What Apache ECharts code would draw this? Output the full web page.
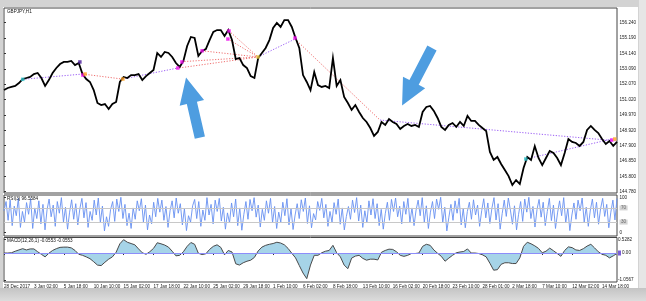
<!DOCTYPE html>
<html>
<head>
<meta charset="utf-8">
<script src="https://cdn.jsdelivr.net/npm/echarts@6/dist/echarts.min.js"></script>
<style>
html,body{margin:0;padding:0;width:646px;height:301px;overflow:hidden;background:#d3d3d3;}
#win{position:absolute;left:3px;top:7px;width:635px;height:281px;background:#fff;}
#rstrip{position:absolute;left:639px;top:0;width:7px;height:301px;background:#e6e6e6;}
#bot{position:absolute;left:0;top:288px;width:646px;height:13px;background:linear-gradient(#c4c4c4,#dcdcdc);}
#c{position:absolute;left:0;top:0;width:646px;height:301px;}
</style>
</head>
<body>
<div id="rstrip"></div>
<div id="bot"></div>
<div id="win"></div>
<div id="c"></div>
<script>
// ---------- DATA ----------
const tickLabels = ['28 Dec 2017','3 Jan 02:00','5 Jan 18:00','10 Jan 10:00','15 Jan 02:00','17 Jan 18:00','22 Jan 10:00','25 Jan 02:00','29 Jan 18:00','1 Feb 10:00','6 Feb 02:00','8 Feb 18:00','13 Feb 10:00','16 Feb 02:00','20 Feb 18:00','23 Feb 10:00','28 Feb 01:00','2 Mar 18:00','7 Mar 10:00','12 Mar 02:00','14 Mar 18:00'];
const priceTicks = [156.240,155.190,154.140,153.090,152.070,151.020,149.970,148.920,147.900,146.850,145.800,144.780];
const rsiTicks = [100,70,30,0];
const macdTicks = [0.5282,0,-1.0567];

const price = [
151.66,151.80,151.87,151.94,152.14,152.41,152.48,152.55,152.75,152.82,
152.48,151.94,152.34,152.82,153.16,153.43,153.57,153.57,153.64,153.36,
153.50,152.75,152.41,152.21,151.66,150.78,150.64,150.71,150.37,150.71,
150.85,152.21,152.55,152.48,152.68,152.68,152.75,152.34,152.61,152.82,
153.02,154.18,153.91,154.25,154.18,153.91,153.50,153.23,153.64,154.66,
155.27,155.20,153.98,154.32,154.45,155.06,155.61,155.74,155.74,155.33,
155.74,155.06,153.77,153.84,153.36,153.16,152.61,152.48,153.84,154.18,
154.52,155.06,155.88,156.22,155.95,156.42,156.42,155.95,155.20,154.52,
152.68,152.21,151.66,152.89,152.00,151.87,151.94,151.80,153.84,151.94,
152.34,151.19,150.78,150.31,150.64,150.17,149.76,149.49,149.08,148.54,
148.81,149.49,149.29,149.69,149.49,149.35,149.01,149.22,149.35,149.22,
149.29,149.15,150.17,150.51,150.58,150.24,149.76,149.15,148.95,149.29,
149.42,149.15,149.49,149.22,149.90,149.56,149.56,149.29,149.08,148.88,
147.45,146.91,147.11,146.63,146.22,145.81,145.20,145.54,145.27,146.36,
147.11,146.91,147.85,147.04,146.56,147.04,147.52,147.38,147.04,146.56,
147.38,148.33,148.13,148.06,147.86,148.13,148.95,149.22,148.95,148.74,
148.33,147.99,148.20,147.86,148.13];

const macd = [
0,0,0.01,0.07,0.12,0.17,0.12,0.16,0.16,0.05,
-0.05,-0.15,-0.01,0.10,0.17,0.22,0.23,0.23,0.20,0.10,
-0.05,-0.09,-0.15,-0.22,-0.34,-0.47,-0.49,-0.36,-0.24,-0.15,
0.03,0.36,0.52,0.42,0.37,0.32,0.16,0.01,-0.05,0.05,
0.18,0.40,0.36,0.31,0.23,0.07,-0.11,-0.09,0.05,0.26,
0.41,0.34,-0.01,-0.06,-0.03,0.14,0.26,0.32,0.22,-0.07,
0.10,0.04,-0.42,-0.47,-0.38,-0.32,-0.28,-0.17,0.08,0.23,
0.30,0.34,0.37,0.42,0.39,0.32,0.18,-0.01,-0.19,-0.49,
-0.78,-1.00,-0.47,-0.09,-0.09,0.01,0.07,0.10,0.30,0.01,
-0.15,-0.47,-0.61,-0.20,-0.12,-0.09,-0.21,-0.28,-0.24,-0.24,
-0.27,0.03,0.10,0.15,0.14,0.05,-0.09,-0.13,-0.09,-0.02,
-0.02,0.00,0.26,0.34,0.30,0.12,-0.01,-0.13,-0.32,-0.20,
-0.09,0.01,0.04,0.06,0.16,0.00,0.00,-0.02,-0.07,-0.15,
-0.40,-0.67,-0.65,-0.44,-0.38,-0.38,-0.41,-0.41,-0.19,0.26,
0.42,0.36,0.28,0.18,0.01,0.07,0.19,0.09,-0.02,-0.13,
0.10,0.24,0.21,0.12,0.10,0.17,0.27,0.34,0.20,0.05,
-0.05,-0.09,-0.19,-0.11,-0.02];

const rsi = [
62,88,35,92,20,75,48,97,15,60,30,85,52,96,12,70,40,90,25,80,
8,65,95,45,78,18,88,55,99,30,72,10,58,93,38,82,22,68,97,42,
85,15,60,35,92,50,98,28,75,5,45,18,66,88,32,95,60,100,40,80,
20,55,12,70,38,90,62,96,30,78,8,50,25,86,45,97,58,92,35,74,
15,62,90,42,98,55,82,22,68,6,48,30,76,94,40,88,18,64,35,99,
50,80,25,92,60,97,33,72,10,56,28,84,45,95,20,70,7,52,88,38,
94,62,99,44,78,16,66,35,90,55,97,28,74,12,58,30,86,48,96,22,
68,9,50,82,40,93,60,98,26,76,14,54,36,88,63,97,42,80,18,60,
30,85,52,95,24,70,8,46,74,38,92,57,99,33,78,15,62,28,90,50,
96,40,82,20,66,10,55,86,35,94,60,98,45,75,25,88,52,97,30,70,
20,64,92,48,99,30,76,12,58,88,40,95,66,100,28,72,5,44,80,35,
90,55,97,22,68,14,60,86,38,93,50,78,18,62,96,42,84,26,70,99,
36,82,10,54,92,46,98,64,24,76,8,52,88,32,95,58,100,40,74,16,
66,94,44,86,20,60,97,34,78,12,56,90,48,99,28,70,6,50,84,38,
92,62,98,30,72,18,64,95,42,86,24,68,97,46,80,14,58,92,36,96.56];

// trend segments [index0, price0, index1, price1]
const purpleLines = [
[5.0,152.39,21.1,152.75],
[31.8,152.41,46.5,153.16],
[67.95,153.91,77.85,155.13],
[100.6,149.62,164,148.20],
[139.6,146.97,162.6,148.33]];
const redLines = [
[21.1,152.75,31.6,152.41],
[46.2,153.14,67.95,153.91],
[47.5,153.59,67.95,153.91],
[53.0,154.33,67.95,153.91],
[60.2,155.68,67.95,153.91],
[59.9,155.13,67.95,153.91],
[77.85,155.13,100.6,149.62]];

const markMagenta = [[21.1,152.68],[46.5,153.16],[47.6,153.57],[53.0,154.33],[60.2,155.68],[59.9,155.13],[77.85,155.20],[162.6,148.26]];
const markOrange = [[21.7,152.75],[31.8,152.41],[163.4,148.33]];
const markCyan = [[5.0,152.39],[139.6,146.97]];
const markYellow = [[67.95,153.91]];
const markPurple = [[20.3,153.57]];

// arrows [tailIndex, tailPrice, tipIndex, tipPrice]
const arrows = [[52.4,148.43,48.7,152.51],[114.5,154.52,106.5,150.61]];

// ---------- CHART ----------
const FONT = 'Liberation Sans';
const FS = 4.6;
const chart = echarts.init(document.getElementById('c'), null, {renderer:'canvas'});

function segs(arr){ return arr.map(s => ({coords:[[s[0],s[1]],[s[2],s[3]]]})); }
function marker(data,color){
  return {type:'scatter', xAxisIndex:0, yAxisIndex:0, symbol:'rect', symbolSize:3.5,
    itemStyle:{color:color}, data:data, z:6, silent:true};
}

const option = {
  animation:false,
  backgroundColor:'transparent',
  title:[
    {text:'GBPJPY,H1', left:7, top:9.5, padding:0, textStyle:{fontSize:FS, fontFamily:FONT, fontWeight:'normal', color:'#111'}},
    {text:'RSI(3) 96.5584', left:7, top:196, padding:0, textStyle:{fontSize:FS, fontFamily:FONT, fontWeight:'normal', color:'#111'}},
    {text:'MACD(12,26,1) -0.0553 -0.0553', left:7, top:238.5, padding:0, textStyle:{fontSize:FS, fontFamily:FONT, fontWeight:'normal', color:'#111'}}
  ],
  grid:[
    {left:4, right:29, top:8, height:185, show:true, borderColor:'#444', borderWidth:1, backgroundColor:'#fff'},
    {left:4, right:29, top:195, height:41, show:true, borderColor:'#444', borderWidth:1, backgroundColor:'#fff'},
    {left:4, right:29, top:237.5, height:44.5, show:true, borderColor:'#444', borderWidth:1, backgroundColor:'#fff'}
  ],
  xAxis:[
    {gridIndex:0, type:'value', min:0, max:price.length-1, show:false},
    {gridIndex:1, type:'value', min:0, max:rsi.length-1, show:false},
    {gridIndex:2, type:'value', min:0, max:macd.length-1, interval:8,
     axisLine:{show:false}, splitLine:{show:false},
     axisTick:{show:true, length:2, lineStyle:{color:'#333'}},
     axisLabel:{fontSize:FS, fontFamily:FONT, color:'#222', align:'left', margin:2.5, showMaxLabel:false,
       formatter:v => { const k = Math.round(v/8); return (Math.abs(v-k*8)<1e-6 && tickLabels[k]) ? tickLabels[k] : ''; }}}
  ],
  yAxis:[
    {gridIndex:0, type:'value', position:'right', min:144.66, max:157.24, scale:true,
     axisLine:{show:false}, splitLine:{show:false},
     axisTick:{show:true, length:2, customValues:priceTicks, lineStyle:{color:'#333'}},
     axisLabel:{customValues:priceTicks, fontSize:FS, fontFamily:FONT, color:'#222', margin:2.5,
       formatter:v => v.toFixed(3)}},
    {gridIndex:1, type:'value', position:'right', min:-9.3, max:106.5,
     axisLine:{show:false}, splitLine:{show:false},
     axisTick:{show:true, length:2, customValues:rsiTicks, lineStyle:{color:'#333'}},
     axisLabel:{customValues:rsiTicks, fontSize:FS, fontFamily:FONT, color:'#222', margin:2.5,
       formatter:v => (v===70||v===30) ? '{g|'+v+'}' : String(v),
       rich:{g:{backgroundColor:'#d4d4d4', color:'#666', fontSize:FS, fontFamily:FONT, padding:[0,1.5,0,1.5]}}}},
    {gridIndex:2, type:'value', position:'right', min:-1.13, max:0.605,
     axisLine:{show:false}, splitLine:{show:false},
     axisTick:{show:true, length:2, customValues:macdTicks, lineStyle:{color:'#333'}},
     axisLabel:{customValues:macdTicks, fontSize:FS, fontFamily:FONT, color:'#222', margin:1,
       formatter:v => v===0 ? '{p|}{t|0.00}' : v.toFixed(4),
       rich:{p:{backgroundColor:'#7b5fd6', width:3, height:5}, t:{fontSize:FS, fontFamily:FONT, color:'#222', padding:[0,0,0,1]}}}}
  ],
  series:[
    {type:'lines', coordinateSystem:'cartesian2d', xAxisIndex:0, yAxisIndex:0, polyline:false, silent:true, z:3,
     lineStyle:{color:'#9a5cf5', width:1, type:[1.2,1.6], opacity:1}, data:segs(purpleLines)},
    {type:'lines', coordinateSystem:'cartesian2d', xAxisIndex:0, yAxisIndex:0, polyline:false, silent:true, z:3,
     lineStyle:{color:'#f07070', width:1, type:[1.2,1.6], opacity:1}, data:segs(redLines)},
    {type:'line', xAxisIndex:0, yAxisIndex:0, data:price.map((v,i)=>[i,v]), showSymbol:false, z:4,
     lineStyle:{color:'#000', width:1.8, join:'miter'}},
    marker(markMagenta,'#ee10ee'),
    marker(markOrange,'#ffa020'),
    marker(markCyan,'#30c0c8'),
    marker(markYellow,'#e8c840'),
    marker(markPurple,'#4a1a9a'),
    {type:'custom', xAxisIndex:0, yAxisIndex:0, coordinateSystem:'cartesian2d', clip:false, z:8, silent:true,
     encode:{x:[0,2], y:[1,3]},
     data:arrows,
     renderItem:(params, api) => {
       const s = api.coord([api.value(0), api.value(1)]);
       const e = api.coord([api.value(2), api.value(3)]);
       const dx = e[0]-s[0], dy = e[1]-s[1], L = Math.sqrt(dx*dx+dy*dy);
       const ux = dx/L, uy = dy/L, nx = -uy, ny = ux;
       const hl = 26, hh = 12.5, sh = 5.2;
       const nk = [e[0]-ux*hl, e[1]-uy*hl];
       const pts = [
         [s[0]+nx*sh, s[1]+ny*sh],[nk[0]+nx*sh, nk[1]+ny*sh],[nk[0]+nx*hh, nk[1]+ny*hh],
         [e[0], e[1]],
         [nk[0]-nx*hh, nk[1]-ny*hh],[nk[0]-nx*sh, nk[1]-ny*sh],[s[0]-nx*sh, s[1]-ny*sh]];
       return {type:'polygon', shape:{points:pts}, style:{fill:'#4e9de0'}};
     }},
    {type:'line', xAxisIndex:1, yAxisIndex:1, data:rsi.map((v,i)=>[i,v]), showSymbol:false, z:4,
     lineStyle:{color:'#6690f0', width:0.9},
     markLine:{silent:true, symbol:'none', label:{show:false}, lineStyle:{color:'#c8c8c8', type:'solid', width:1},
       data:[{yAxis:70},{yAxis:30}]}},
    {type:'line', xAxisIndex:2, yAxisIndex:2, data:macd.map((v,i)=>[i,v]), showSymbol:false, z:4,
     lineStyle:{color:'#4a4a4a', width:1},
     areaStyle:{color:'#a6d4e8', opacity:1, origin:0},
     markLine:{silent:true, symbol:'none', label:{show:false}, lineStyle:{color:'#8d8dfa', type:'solid', width:1},
       data:[{yAxis:0}]}}
  ]
};
chart.setOption(option);
</script>
</body>
</html>
